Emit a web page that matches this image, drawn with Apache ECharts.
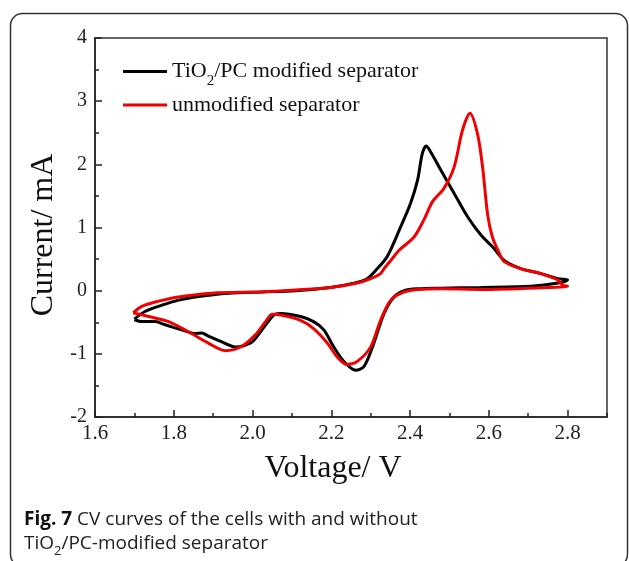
<!DOCTYPE html>
<html>
<head>
<meta charset="utf-8">
<script src="https://cdn.jsdelivr.net/npm/echarts@6/dist/echarts.min.js"></script>
<style>
  html, body { margin: 0; padding: 0; background: #fff; }
  #chart { width: 629px; height: 561px; }
</style>
</head>
<body>
<div id="chart"></div>
<script>
// TiO2/PC modified separator (black)
const tioVoltage = [1.700, 1.727, 1.770, 1.812, 1.854, 1.939, 2.024, 2.109, 2.198, 2.257, 2.291, 2.317, 2.342, 2.376, 2.401, 2.419, 2.431, 2.441, 2.452, 2.478, 2.512, 2.546, 2.580, 2.610, 2.639, 2.681, 2.732, 2.775, 2.800,
  2.775, 2.707, 2.580, 2.478, 2.420, 2.385, 2.359, 2.334, 2.308, 2.283, 2.262, 2.232, 2.206, 2.181, 2.155, 2.122, 2.071, 2.058, 2.050, 2.024, 1.999, 1.973, 1.956, 1.922, 1.888, 1.871, 1.854, 1.820, 1.778, 1.753, 1.719, 1.700];
const tioCurrent = [-0.45, -0.33, -0.23, -0.15, -0.10, -0.04, -0.02, 0.00, 0.05, 0.12, 0.19, 0.35, 0.54, 1.01, 1.38, 1.75, 2.17, 2.29, 2.20, 1.91, 1.54, 1.17, 0.88, 0.69, 0.48, 0.35, 0.27, 0.19, 0.17,
  0.12, 0.07, 0.05, 0.04, 0.03, 0.00, -0.10, -0.36, -0.83, -1.20, -1.26, -1.12, -0.89, -0.62, -0.49, -0.41, -0.36, -0.37, -0.41, -0.62, -0.81, -0.88, -0.89, -0.81, -0.72, -0.67, -0.68, -0.62, -0.54, -0.49, -0.49, -0.46];

// unmodified separator (red)
const bareVoltage = [1.697, 1.719, 1.753, 1.812, 1.897, 2.024, 2.109, 2.198, 2.266, 2.300, 2.325, 2.334, 2.359, 2.372, 2.410, 2.435, 2.457, 2.486, 2.512, 2.533, 2.552, 2.571, 2.584, 2.597, 2.609, 2.626, 2.639, 2.681, 2.732, 2.775, 2.787, 2.800,
  2.749, 2.580, 2.478, 2.420, 2.385, 2.351, 2.325, 2.300, 2.266, 2.240, 2.215, 2.190, 2.155, 2.122, 2.075, 2.050, 2.033, 2.007, 1.973, 1.931, 1.888, 1.837, 1.787, 1.736, 1.697];
const bareCurrent = [-0.35, -0.25, -0.18, -0.10, -0.04, -0.02, 0.01, 0.05, 0.12, 0.19, 0.27, 0.35, 0.54, 0.64, 0.85, 1.12, 1.41, 1.62, 1.96, 2.54, 2.81, 2.49, 1.96, 1.20, 0.85, 0.60, 0.46, 0.35, 0.27, 0.17, 0.09, 0.07,
  0.05, 0.02, 0.03, 0.02, -0.02, -0.15, -0.47, -0.89, -1.12, -1.17, -1.05, -0.83, -0.60, -0.47, -0.39, -0.375, -0.49, -0.70, -0.88, -0.95, -0.83, -0.65, -0.49, -0.41, -0.35];

const seriesNames = ['TiO2/PC modified separator', 'unmodified separator'];
const caption = ['Fig. 7', ' CV curves of the cells with and without', 'TiO', '2', '/PC-modified separator'];

const pairs = (xs, ys) => xs.map((x, i) => [x, ys[i]]);

const serif = 'Liberation Serif';
const sans = 'Open Sans';
const axisColor = '#222';

const chart = echarts.init(document.getElementById('chart'));

const legendRich = {
  m: { fontFamily: serif, fontSize: 22, color: '#111', lineHeight: 26 },
  s: { fontFamily: serif, fontSize: 15, color: '#111', lineHeight: 26, padding: [20, 0, 0, 0] }
};
const legendBase = {
  orient: 'vertical',
  left: 123,
  padding: 0,
  icon: 'rect',
  itemWidth: 44,
  itemHeight: 3,
  itemGap: 5,
  selectedMode: false,
  textStyle: { fontFamily: serif, fontSize: 22, rich: legendRich },
  formatter: name => name === seriesNames[0]
    ? '{m|TiO}{s|2}{m|/PC modified separator}'
    : '{m|' + name + '}'
};

chart.setOption({
  animation: false,
  backgroundColor: '#fff',
  textStyle: { fontFamily: serif },
  title: {
    left: 24,
    top: 508,
    padding: 0,
    text: '{b|' + caption[0] + '}{n|' + caption[1] + '}\n{n|' + caption[2] + '}{s|' + caption[3] + '}{n|' + caption[4] + '}',
    textStyle: {
      fontWeight: 'normal',
      fontFamily: sans,
      rich: {
        b: { fontFamily: sans, fontWeight: 'bold', fontSize: 19, color: '#111', lineHeight: 24 },
        n: { fontFamily: sans, fontWeight: 'normal', fontSize: 19, color: '#222', lineHeight: 24 },
        s: { fontFamily: sans, fontWeight: 'normal', fontSize: 13, color: '#222', lineHeight: 24, padding: [14, 0, 0, 0] }
      }
    }
  },
  legend: [
    Object.assign({}, legendBase, { data: [seriesNames[0]], top: 54 }),
    Object.assign({}, legendBase, { data: [seriesNames[1]], top: 94 })
  ],
  grid: {
    left: 95,
    right: 22,
    top: 38,
    bottom: 144,
    show: true,
    borderColor: '#333',
    borderWidth: 1.5,
    backgroundColor: 'transparent'
  },
  xAxis: [
    {
      type: 'value',
      min: 1.6,
      max: 2.9,
      interval: 0.2,
      position: 'bottom',
      name: 'Voltage/ V',
      nameLocation: 'middle',
      nameGap: 36,
      nameTextStyle: { fontFamily: serif, fontSize: 32, color: '#111', padding: [0, 36, 0, 0] },
      axisLine: { onZero: false, lineStyle: { color: axisColor, width: 1.5 } },
      axisTick: { inside: true, length: 7, lineStyle: { color: axisColor, width: 1.5 } },
      axisLabel: {
        margin: 6,
        showMaxLabel: false,
        formatter: v => '{t|' + v.toFixed(1) + '}',
        rich: { t: { fontFamily: serif, fontSize: 21, color: '#222' } }
      },
      splitLine: { show: false }
    },
    {
      type: 'value',
      min: 1.6,
      max: 2.9,
      interval: 0.1,
      position: 'bottom',
      axisLine: { show: false, onZero: false },
      axisTick: { inside: true, length: 4, lineStyle: { color: axisColor, width: 1.5 } },
      axisLabel: { show: false },
      splitLine: { show: false }
    }
  ],
  yAxis: {
    type: 'value',
    min: -2,
    max: 4,
    interval: 1,
    name: 'Current/ mA',
    nameLocation: 'middle',
    nameGap: 30,
    nameTextStyle: { fontFamily: serif, fontSize: 32, color: '#111', padding: [0, 15, 0, 0] },
    axisLine: { show: true, onZero: false, lineStyle: { color: axisColor, width: 1.5 } },
    axisTick: { show: true, inside: true, length: 7, lineStyle: { color: axisColor, width: 1.5 } },
    minorTick: { show: true, splitNumber: 2, length: 4, lineStyle: { color: axisColor, width: 1.5 } },
    axisLabel: {
      margin: 8,
      formatter: v => '{t|' + v + '}',
      rich: { t: { fontFamily: serif, fontSize: 20, color: '#222' } }
    },
    splitLine: { show: false }
  },
  series: [
    {
      name: seriesNames[0],
      type: 'line',
      xAxisIndex: 0,
      data: pairs(tioVoltage, tioCurrent),
      symbol: 'none',
      smooth: 0.3,
      lineStyle: { color: '#000', width: 3 },
      itemStyle: { color: '#000' }
    },
    {
      name: seriesNames[1],
      type: 'line',
      xAxisIndex: 0,
      data: pairs(bareVoltage, bareCurrent),
      symbol: 'none',
      smooth: 0.3,
      lineStyle: { color: '#f00000', width: 3 },
      itemStyle: { color: '#f00000' }
    }
  ],
  graphic: [
    {
      type: 'rect',
      z: -1,
      shape: { x: 10.5, y: 13.5, width: 617, height: 553, r: 12 },
      style: { fill: 'none', stroke: '#333', lineWidth: 1.5 }
    }
  ]
});
</script>
</body>
</html>
